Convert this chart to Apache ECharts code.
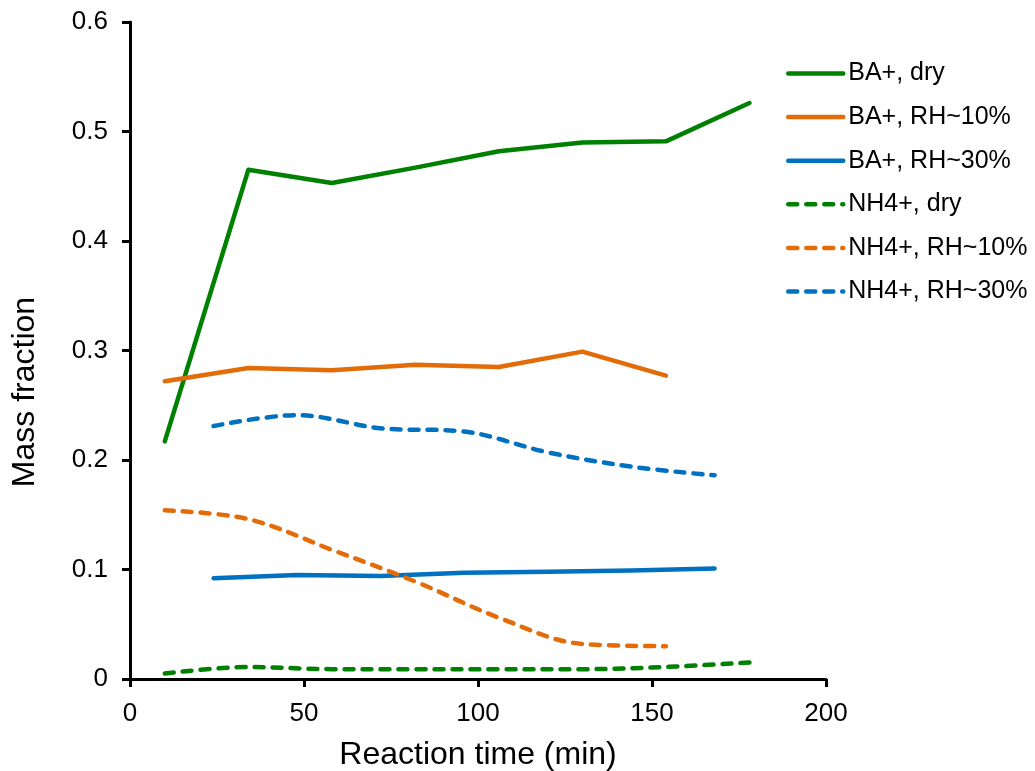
<!DOCTYPE html>
<html>
<head>
<meta charset="utf-8">
<script src="https://cdn.jsdelivr.net/npm/echarts@6/dist/echarts.min.js"></script>
<style>
  html, body { margin: 0; padding: 0; background: #fff; }
  #chart { width: 1035px; height: 771px; }
</style>
</head>
<body>
<div id="chart"></div>
<script>
// Sampling times (min)
const timesDry = [10, 34, 58, 82, 106, 130, 154, 178];
const timesRH10 = [10, 34, 58, 82, 106, 130, 154];
const timesRH30 = [24, 48, 72, 96, 120, 144, 168];

// Mass fractions
const baDry = [0.217, 0.465, 0.453, 0.467, 0.482, 0.490, 0.491, 0.526];
const baRH10 = [0.272, 0.284, 0.282, 0.287, 0.285, 0.299, 0.277];
const baRH30 = [0.092, 0.095, 0.094, 0.097, 0.098, 0.099, 0.101];
const nh4Dry = [0.005, 0.011, 0.009, 0.009, 0.009, 0.009, 0.011, 0.015];
const nh4RH10 = [0.154, 0.146, 0.118, 0.089, 0.056, 0.032, 0.030];
const nh4RH30 = [0.231, 0.241, 0.229, 0.226, 0.207, 0.194, 0.186];

const xTicks = [0, 50, 100, 150, 200];
const yTicks = [0, 0.1, 0.2, 0.3, 0.4, 0.5, 0.6];

const GREEN = '#008000', ORANGE = '#E36C09', BLUE = '#0070C0';
const FONT = '"Liberation Sans", Arial, sans-serif';

function pairs(xs, ys) { return xs.map((x, i) => [x, ys[i]]); }

function line(name, xs, ys, color, dashed) {
  return {
    name: name,
    type: 'line',
    data: pairs(xs, ys),
    symbol: 'none',
    smooth: dashed ? 0.35 : false,
    lineStyle: {
      color: color,
      width: 4.5,
      type: dashed ? [9, 9] : 'solid',
      cap: 'round',
      join: 'round'
    },
    itemStyle: { color: color },
    emphasis: { disabled: true },
    animation: false
  };
}

const chart = echarts.init(document.getElementById('chart'), null, { renderer: 'canvas' });
chart.setOption({
  backgroundColor: '#fff',
  animation: false,
  grid: { left: 130, right: 209, top: 22, bottom: 92, containLabel: false, outerBoundsMode: 'none' },
  legend: {
    orient: 'vertical',
    left: 781,
    top: 56,
    itemWidth: 55,
    itemHeight: 26,
    itemGap: 18.6,
    lineStyle: { width: 4.5, cap: 'round' },
    itemStyle: { opacity: 0 },
    textStyle: { fontFamily: FONT, fontSize: 25, color: '#000' },
    data: ['BA+, dry', 'BA+, RH~10%', 'BA+, RH~30%', 'NH4+, dry', 'NH4+, RH~10%', 'NH4+, RH~30%']
  },
  graphic: [{
    type: 'text',
    x: 25,
    y: 392,
    rotation: Math.PI / 2,
    style: {
      text: 'Mass fraction',
      font: '32px ' + FONT,
      fill: '#000',
      align: 'center',
      verticalAlign: 'middle'
    }
  }],
  xAxis: {
    type: 'value',
    min: xTicks[0],
    max: xTicks[xTicks.length - 1],
    interval: 50,
    name: 'Reaction time (min)',
    nameLocation: 'middle',
    nameGap: 60,
    nameTextStyle: { fontFamily: FONT, fontSize: 32, color: '#000' },
    axisLine: { lineStyle: { color: '#000', width: 3 } },
    axisTick: { show: true, length: 8, lineStyle: { color: '#000', width: 3 } },
    axisLabel: { fontFamily: FONT, fontSize: 26, color: '#000', margin: 22 },
    splitLine: { show: false }
  },
  yAxis: {
    type: 'value',
    min: yTicks[0],
    max: yTicks[yTicks.length - 1],
    interval: 0.1,
    axisLine: { show: true, lineStyle: { color: '#000', width: 3 } },
    axisTick: { show: true, length: 8, lineStyle: { color: '#000', width: 3 } },
    axisLabel: {
      fontFamily: FONT, fontSize: 26, color: '#000', margin: 22,
      formatter: v => (v === 0 ? '0' : v.toFixed(1))
    },
    splitLine: { show: false }
  },
  series: [
    line('BA+, dry', timesDry, baDry, GREEN, false),
    line('BA+, RH~10%', timesRH10, baRH10, ORANGE, false),
    line('BA+, RH~30%', timesRH30, baRH30, BLUE, false),
    line('NH4+, dry', timesDry, nh4Dry, GREEN, true),
    line('NH4+, RH~10%', timesRH10, nh4RH10, ORANGE, true),
    line('NH4+, RH~30%', timesRH30, nh4RH30, BLUE, true)
  ]
});
</script>
</body>
</html>
